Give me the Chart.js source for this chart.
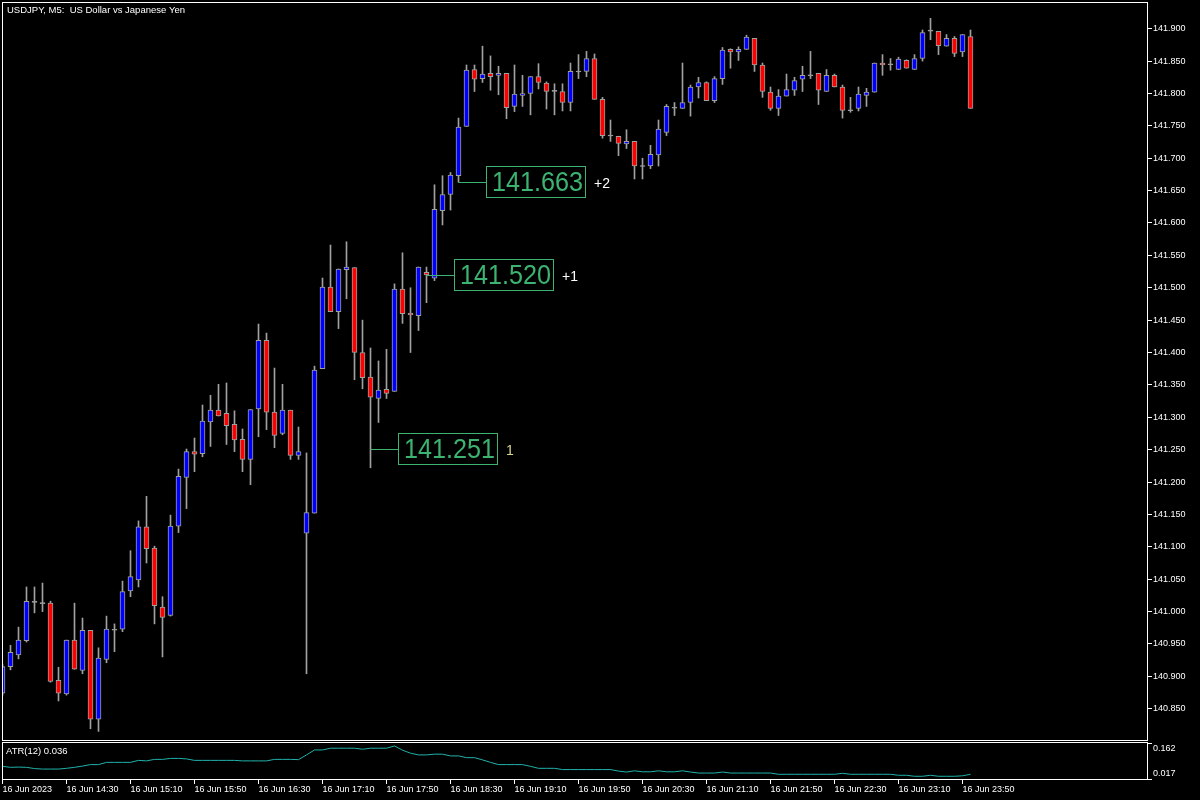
<!DOCTYPE html>
<html>
<head>
<meta charset="utf-8">
<script src="https://cdn.jsdelivr.net/npm/chart.js@4.4.0/dist/chart.umd.min.js"></script>
<style>
  html, body { margin: 0; padding: 0; background: #000; }
  #wrap { position: relative; width: 1200px; height: 800px; background: #000; overflow: hidden; }
  #main { position: absolute; left: 0; top: 0; }
  #atr { position: absolute; left: 0; top: 741px; }
</style>
</head>
<body>
<div id="wrap">
  <canvas id="main" width="1200" height="741" style="width:1200px;height:741px"></canvas>
  <canvas id="atr" width="1200" height="59" style="width:1200px;height:59px"></canvas>
</div>
<script>
// USDJPY M5, velas de 13:50 a 23:55
const opens = [140.874,140.915,140.933,140.955,141.015,141.013,141.013,140.894,140.873,140.956,
  140.909,140.971,140.834,140.926,140.972,140.973,141.032,141.049,141.131,141.098,
  141.007,140.994,141.132,141.207,141.247,141.244,141.293,141.311,141.306,141.289,
  141.266,141.235,141.313,141.419,141.308,141.275,141.311,141.241,141.121,141.152,
  141.375,141.501,141.463,141.528,141.531,141.400,141.362,141.329,141.343,141.340,
  141.498,141.461,141.457,141.524,141.515,141.619,141.644,141.673,141.749,141.837,
  141.823,141.831,141.828,141.831,141.780,141.797,141.800,141.826,141.816,141.804,
  141.803,141.786,141.834,141.834,141.854,141.791,141.735,141.734,141.722,141.726,
  141.688,141.688,141.705,141.740,141.778,141.777,141.786,141.810,141.817,141.789,
  141.823,141.868,141.864,141.868,141.885,141.844,141.802,141.777,141.796,141.805,
  141.822,141.828,141.831,141.803,141.828,141.810,141.774,141.777,141.797,141.802,
  141.847,141.845,141.837,141.851,141.837,141.854,141.897,141.896,141.873,141.885,
  141.864,141.888]
const highs = [140.919,140.948,140.976,141.038,141.038,141.044,141.016,140.914,140.956,141.013,
  140.990,140.971,140.944,140.993,140.981,141.047,141.094,141.140,141.178,141.101,
  141.023,141.149,141.220,141.251,141.268,141.319,141.334,141.351,141.353,141.310,
  141.282,141.312,141.444,141.430,141.376,141.351,141.311,141.285,141.245,141.379,
  141.515,141.566,141.529,141.571,141.531,141.450,141.407,141.387,141.405,141.506,
  141.554,141.500,141.532,141.532,141.659,141.673,141.678,141.762,141.844,141.844,
  141.873,141.858,141.842,141.831,141.844,141.828,141.826,141.846,141.818,141.815,
  141.815,141.847,141.860,141.865,141.861,141.794,141.759,141.734,141.744,141.726,
  141.700,141.720,141.759,141.783,141.786,141.847,141.813,141.825,141.818,141.826,
  141.871,141.869,141.872,141.890,141.885,141.847,141.810,141.806,141.830,141.825,
  141.842,141.865,141.831,141.837,141.830,141.813,141.794,141.810,141.808,141.847,
  141.860,141.854,141.856,141.852,141.860,141.898,141.916,141.896,141.891,141.888,
  141.891,141.898]
const lows = [140.871,140.910,140.927,140.953,140.998,141.000,140.891,140.862,140.871,140.911,
  140.904,140.819,140.815,140.921,140.938,140.969,141.023,141.038,141.075,140.981,
  140.930,140.993,141.122,141.159,141.216,141.239,141.255,141.302,141.258,141.247,
  141.216,141.196,141.270,141.281,141.253,141.273,141.235,141.235,140.904,141.152,
  141.375,141.463,141.437,141.483,141.358,141.344,141.222,141.292,141.329,141.340,
  141.445,141.400,141.434,141.477,141.511,141.597,141.620,141.663,141.749,141.803,
  141.817,141.805,141.798,141.761,141.772,141.780,141.767,141.807,141.776,141.767,
  141.773,141.773,141.823,141.826,141.791,141.731,141.726,141.704,141.715,141.668,
  141.668,141.684,141.688,141.735,141.766,141.777,141.765,141.793,141.789,141.786,
  141.814,141.839,141.851,141.868,141.834,141.794,141.774,141.766,141.796,141.797,
  141.803,141.823,141.783,141.803,141.810,141.762,141.771,141.773,141.780,141.802,
  141.828,141.836,141.837,141.839,141.837,141.850,141.883,141.860,141.873,141.857,
  141.857,141.777]
const closes = [140.915,140.937,140.956,141.016,141.015,141.013,140.892,140.874,140.956,140.911,
  140.971,140.834,140.928,140.973,140.972,141.031,141.054,141.131,141.097,141.009,
  140.991,141.132,141.209,141.247,141.243,141.294,141.311,141.302,141.287,141.265,
  141.235,141.312,141.419,141.308,141.272,141.311,141.241,141.247,141.153,141.373,
  141.501,141.463,141.529,141.532,141.400,141.361,141.331,141.342,141.337,141.498,
  141.460,141.458,141.532,141.520,141.621,141.644,141.674,141.748,141.836,141.822,
  141.830,141.826,141.831,141.778,141.799,141.800,141.826,141.817,141.803,141.804,
  141.786,141.834,141.834,141.854,141.791,141.735,141.735,141.723,141.726,141.688,
  141.688,141.706,141.745,141.780,141.778,141.786,141.810,141.817,141.789,141.823,
  141.867,141.864,141.868,141.887,141.844,141.803,141.777,141.796,141.806,141.820,
  141.828,141.828,141.805,141.828,141.810,141.774,141.774,141.799,141.802,141.847,
  141.844,141.845,141.853,141.839,141.854,141.894,141.897,141.874,141.885,141.862,
  141.891,141.777]

// ATR(12) de la subventana
const atr = [0.068,0.064,0.065,0.064,0.059,0.057,0.057,0.057,0.060,0.064,
  0.069,0.075,0.075,0.084,0.084,0.084,0.084,0.092,0.090,0.096,
  0.096,0.100,0.100,0.098,0.092,0.092,0.092,0.092,0.092,0.092,
  0.090,0.090,0.090,0.090,0.096,0.096,0.096,0.095,0.114,0.134,
  0.134,0.141,0.141,0.141,0.141,0.137,0.141,0.141,0.141,0.150,
  0.133,0.121,0.114,0.114,0.117,0.117,0.110,0.110,0.103,0.103,
  0.094,0.084,0.075,0.075,0.075,0.075,0.068,0.060,0.060,0.060,
  0.055,0.055,0.055,0.055,0.055,0.055,0.055,0.049,0.045,0.050,
  0.046,0.046,0.050,0.046,0.046,0.050,0.045,0.041,0.041,0.041,
  0.045,0.041,0.041,0.041,0.041,0.041,0.041,0.036,0.036,0.036,
  0.036,0.036,0.036,0.036,0.036,0.040,0.036,0.036,0.036,0.036,
  0.036,0.036,0.032,0.032,0.028,0.028,0.032,0.028,0.028,0.028,
  0.030,0.036]

// etiquetas del eje de tiempo, una cada 8 velas
const tickLabels = ['16 Jun 2023','16 Jun 14:30','16 Jun 15:10','16 Jun 15:50','16 Jun 16:30',
  '16 Jun 17:10','16 Jun 17:50','16 Jun 18:30','16 Jun 19:10','16 Jun 19:50','16 Jun 20:30',
  '16 Jun 21:10','16 Jun 21:50','16 Jun 22:30','16 Jun 23:10','16 Jun 23:50']

// marcas de precio
const markBars = [46, 53, 57]
const markPrices = [141.251, 141.520, 141.663]
const markTags = ['1', '+1', '+2']

const fuente = "'Liberation Sans', Arial, sans-serif"
Chart.defaults.font.family = fuente
Chart.defaults.font.size = 9
Chart.defaults.color = '#ffffff'

const gris = '#a0a0a0'
const verde = '#3cb371'
const xMin = 0.0625
const xMax = 143.0625

const cuerpos = opens.map((o, i) => {
  const c = closes[i]
  if (o === c) return {x: i, y: [o - 0.0007, o + 0.0007]}
  return {x: i, y: [o, c]}
})
const coloresCuerpo = opens.map((o, i) => closes[i] > o ? '#0000ff' : (closes[i] < o ? '#ff0000' : gris))
const mechas = lows.map((l, i) => ({x: i, y: [l, highs[i]]}))

// sin margen extra de las etiquetas, el area queda donde la pongo
function sinRelleno(s) {
  s.paddingTop = 0
  s.paddingBottom = 0
  s.paddingLeft = 0
  s.paddingRight = 0
}

//marco blanco alrededor del area
const marco = {
  id: 'marco',
  afterDraw(chart) {
    const {ctx, chartArea: a} = chart
    ctx.save()
    ctx.strokeStyle = '#ffffff'
    ctx.lineWidth = 1
    ctx.strokeRect(a.left - 0.5, a.top - 0.5, a.right - a.left + 1, a.bottom - a.top + 1)
    ctx.restore()
  }
}

//titulo y cajas de precio
const textos = {
  id: 'textos',
  afterDatasetsDraw(chart) {
    const {ctx} = chart
    const sx = chart.scales.x
    const sy = chart.scales.y
    ctx.save()
    ctx.fillStyle = '#ffffff'
    ctx.font = '9.5px ' + fuente
    ctx.textBaseline = 'middle'
    ctx.textAlign = 'left'
    ctx.fillText('USDJPY, M5:  US Dollar vs Japanese Yen', 7, 10)

    markBars.forEach((b, k) => {
      const px = sx.getPixelForValue(b)
      const py = Math.round(sy.getPixelForValue(markPrices[k]))
      const caja = Math.round(px + 27)
      ctx.strokeStyle = verde
      ctx.lineWidth = 1
      ctx.beginPath()
      ctx.moveTo(px, py + 0.5)
      ctx.lineTo(caja, py + 0.5)
      ctx.stroke()
      ctx.strokeRect(caja + 0.5, py - 15.5, 99, 31)

      ctx.save()
      ctx.translate(caja + 6, py + 1)
      ctx.scale(0.9, 1)
      ctx.fillStyle = verde
      ctx.font = '28px ' + fuente
      ctx.fillText(markPrices[k].toFixed(3), 0, 0)
      ctx.restore()

      ctx.fillStyle = k === 0 ? '#d8d890' : '#ffffff'
      ctx.font = '14px ' + fuente
      ctx.fillText(markTags[k], caja + 108, py + 2)
    })
    ctx.restore()
  }
}

const textoAtr = {
  id: 'textoAtr',
  afterDatasetsDraw(chart) {
    const {ctx} = chart
    ctx.save()
    ctx.fillStyle = '#ffffff'
    ctx.font = '9.5px ' + fuente
    ctx.textBaseline = 'middle'
    ctx.fillText('ATR(12) ' + atr[atr.length - 1].toFixed(3), 6, 10.5)
    ctx.restore()
  }
}

new Chart(document.getElementById('main'), {
  type: 'bar',
  data: {
    datasets: [
      {data: cuerpos, backgroundColor: coloresCuerpo, borderColor: gris, borderWidth: 1,
        borderSkipped: false, barThickness: 5, grouped: false, order: 0},
      {data: mechas, backgroundColor: gris, borderWidth: 0, barThickness: 1, grouped: false, order: 1}
    ]
  },
  options: {
    responsive: false,
    animation: false,
    devicePixelRatio: 1,
    layout: {padding: {left: 3, top: 3, right: 0, bottom: 1}},
    plugins: {legend: {display: false}, tooltip: {enabled: false}},
    scales: {
      x: {type: 'linear', display: false, min: xMin, max: xMax, offset: false},
      y: {
        position: 'right', min: 140.8017, max: 141.9397,
        afterFit(s) { s.width = 53; sinRelleno(s) },
        grid: {drawOnChartArea: false, drawTicks: true, tickLength: 5, color: '#ffffff'},
        border: {display: false},
        ticks: {stepSize: 0.05, includeBounds: false, padding: 1, autoSkip: false,
          callback: v => v.toFixed(3)}
      }
    }
  },
  plugins: [marco, textos]
})

new Chart(document.getElementById('atr'), {
  type: 'line',
  data: {
    datasets: [{
      data: atr.map((v, i) => ({x: i, y: v})),
      borderColor: '#20b2aa', borderWidth: 1, pointRadius: 0, tension: 0, fill: false
    }]
  },
  options: {
    responsive: false,
    animation: false,
    devicePixelRatio: 1,
    layout: {padding: {left: 3, top: 2, right: 0, bottom: 0}},
    plugins: {legend: {display: false}, tooltip: {enabled: false}},
    scales: {
      x: {
        type: 'linear', position: 'bottom', min: xMin, max: xMax, offset: false,
        afterBuildTicks(s) { s.ticks = tickLabels.map((t, k) => ({value: k * 8})) },
        afterFit(s) { s.height = 21; sinRelleno(s) },
        grid: {drawOnChartArea: false, drawTicks: true, tickLength: 5, color: '#ffffff'},
        border: {display: false},
        ticks: {align: 'start', padding: 0, maxRotation: 0, autoSkip: false,
          callback: v => tickLabels[Math.round(v / 8)]}
      },
      y: {
        position: 'right', min: 0.017, max: 0.162,
        afterFit(s) { s.width = 53; sinRelleno(s) },
        afterBuildTicks(s) { s.ticks = [{value: 0.017}, {value: 0.162}] },
        grid: {drawOnChartArea: false, drawTicks: true, tickLength: 5, color: '#ffffff'},
        border: {display: false},
        ticks: {padding: 1, autoSkip: false,
          callback: v => v > 0.1 ? ['', v.toFixed(3)] : [v.toFixed(3), '']}
      }
    }
  },
  plugins: [marco, textoAtr]
})
</script>
</body>
</html>
